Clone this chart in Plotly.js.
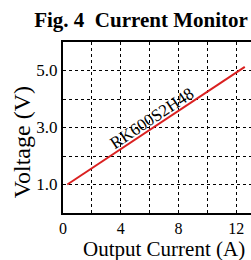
<!DOCTYPE html>
<html>
<head>
<meta charset="utf-8">
<script src="https://cdn.plot.ly/plotly-3.0.1.min.js"></script>
<style>
html,body{margin:0;padding:0;overflow:hidden;background:#fff;}
#chart{width:285px;height:260px;}
</style>
</head>
<body>
<div id="chart"></div>
<script>
const current = [0.3, 12.6];
const voltage = [1.0, 5.13];
const xTickVals = [0, 4, 8, 12];
const xTickText = ['0', '4', '8', '12'];
const yTickVals = [1, 3, 5];
const yTickText = ['1.0', '3.0', '5.0'];
const seriesLabel = 'RK600S2H48';
const labelPos = {x: 6.15, y: 3.3};

const serif = 'Liberation Serif, Times New Roman, serif';

const trace = {
  x: current, y: voltage, type: 'scatter', mode: 'lines',
  line: {color: 'rgb(218,32,32)', width: 2}, hoverinfo: 'skip', showlegend: false
};

const gridStyle = {showgrid: true, gridcolor: '#000', griddash: 'dot', gridwidth: 1};

const layout = {
  width: 285, height: 260,
  margin: {l: 63, r: 20, t: 42, b: 47},
  paper_bgcolor: '#fff', plot_bgcolor: '#fff',
  font: {family: serif, color: '#000'},
  title: {
    text: '<b>Fig. 4  Current Monitor</b>',
    font: {family: serif, size: 21, color: '#000'},
    xref: 'container', x: 141/285, xanchor: 'center',
    yref: 'container', y: 1 - 20/260, yanchor: 'middle'
  },
  xaxis: Object.assign({
    range: [0, 14], tickmode: 'array', tickvals: xTickVals, ticktext: xTickText,
    ticks: '', tickfont: {family: serif, size: 16, color: '#000'},
    showline: true, linecolor: '#000', linewidth: 2, mirror: true, zeroline: false,
    minor: {tickmode: 'linear', tick0: 0, dtick: 2, showgrid: true, gridcolor: '#000', griddash: 'dot', gridwidth: 1},
    ticklabelstandoff: 0
  }, gridStyle),
  yaxis: Object.assign({
    range: [0, 6], tickmode: 'array', tickvals: yTickVals, ticktext: yTickText,
    ticks: '', tickfont: {family: serif, size: 17, color: '#000'},
    showline: true, linecolor: '#000', linewidth: 2, mirror: true, zeroline: false,
    minor: {tickmode: 'linear', tick0: 0, dtick: 1, showgrid: true, gridcolor: '#000', griddash: 'dot', gridwidth: 1},
    ticklabelstandoff: 0
  }, gridStyle),
  annotations: [
    {text: seriesLabel, x: labelPos.x, y: labelPos.y, xref: 'x', yref: 'y', showarrow: false,
     textangle: -33.5, font: {family: serif, size: 17, color: '#000'}},
    {text: 'Output Current (A)', xref: 'paper', yref: 'paper', x: 0.5, y: (213.3 - 249) / 171,
     xanchor: 'center', yanchor: 'middle', showarrow: false,
     font: {family: serif, size: 21, color: '#000'}},
    {text: 'Voltage (V)', xref: 'paper', yref: 'paper', x: (22 - 63) / 202, y: (213.3 - 142.5) / 171,
     xanchor: 'center', yanchor: 'middle', showarrow: false, textangle: -90,
     font: {family: serif, size: 24, color: '#000'}}
  ]
};

Plotly.newPlot('chart', [trace], layout, {displayModeBar: false, staticPlot: true});
</script>
</body>
</html>
